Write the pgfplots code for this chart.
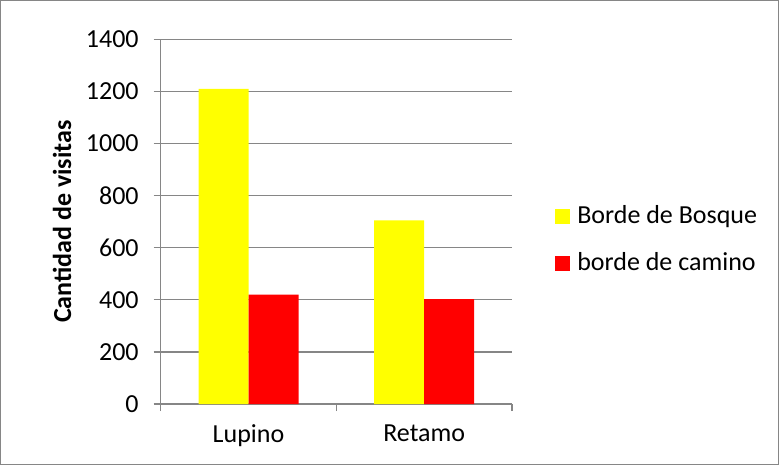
\documentclass[border=0pt]{standalone}
\usepackage{pgfplots}
\pgfplotsset{compat=1.18}
\usepackage{fontspec}
\setmainfont{Carlito}
\definecolor{gridgray}{HTML}{868686}
\definecolor{byellow}{HTML}{FFFF00}
\definecolor{bred}{HTML}{FF0000}
\begin{document}
\begin{tikzpicture}
\draw[gridgray, line width=0.5pt] (0.25pt,0.25pt) rectangle (389.25pt,232.25pt);
\begin{axis}[
  at={(80.35pt,30.5pt)}, anchor=south west,
  scale only axis, width=175.65pt, height=182.35pt,
  ybar=0pt, bar width=25pt,
  ymin=0, ymax=1400, ytick={0,200,...,1400},
  xmin=-0.5, xmax=1.5,
  xtick={-0.5,0.5,1.5}, xticklabels={},
  extra x ticks={0,1}, extra x tick labels={Lupino,Retamo},
  extra x tick style={major tick length=0pt, xticklabel style={yshift=-7pt}},
  axis lines*=left,
  axis line style={gridgray, line width=0.6pt},
  tick style={gridgray, line width=0.6pt},
  tick align=outside, major tick length=3.5pt,
  ymajorgrids, grid style={gridgray, line width=0.6pt},
  font=\fontsize{13}{15.6}\selectfont,
  /pgf/number format/assume math mode=true,
  /pgf/number format/1000 sep={},
  yticklabel style={xshift=-4pt},
  every axis y label/.style={at={(axis description cs:0,0.5)}, xshift=-49.35pt, rotate=90, anchor=center},
  ylabel={\bfseries Cantidad de visitas},
  legend style={at={(1.122,0.45)}, anchor=west, draw=none, fill=none,
    font=\fontsize{13}{15.6}\selectfont, row sep=9pt, inner sep=0pt},
  legend cell align=left,
  legend image code/.code={\fill[#1] (0pt,-3.75pt) rectangle (7.5pt,3.75pt); \path (9pt,0pt);},
]
\addplot[fill=byellow, draw=none] coordinates {(0,1210) (1,705)};
\addplot[fill=bred, draw=none] coordinates {(0,420) (1,403)};
\legend{Borde de Bosque, borde de camino}
\end{axis}
\end{tikzpicture}
\end{document}
